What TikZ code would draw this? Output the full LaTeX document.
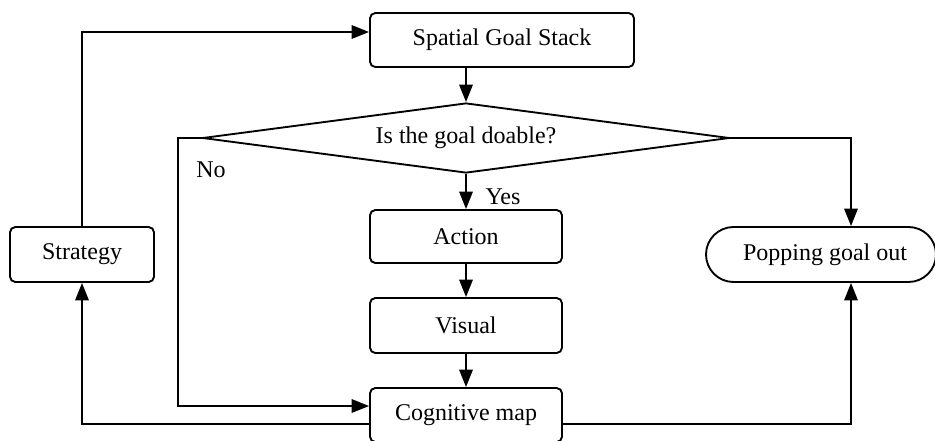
\documentclass[tikz,border=0pt]{standalone}
\usepackage{fontspec}
\setmainfont{Liberation Serif}
\usetikzlibrary{arrows.meta,shapes.geometric,shapes.misc}
\begin{document}
\begin{tikzpicture}[x=0.75pt,y=-0.75pt,
  font=\fontsize{18}{21}\selectfont,
  line width=1.4pt,
  box/.style={draw, rounded corners=4pt, inner sep=0pt, minimum width=144pt, minimum height=40.5pt},
  arr/.style={-{Triangle[length=13pt,width=10pt]}},
  lbl/.style={inner sep=0pt}]
\useasboundingbox (0,0) rectangle (935,440);
\node[box, minimum width=198pt] (sgs) at (502,40) {Spatial Goal Stack};
\node[draw, diamond, shape aspect=7.53, inner sep=0pt, minimum width=395.25pt, minimum height=52.5pt] (dia) at (466,138) {Is the goal doable?};
\node[box, minimum height=39.75pt] (act) at (466,236.5) {Action};
\node[box, minimum height=41.25pt] (vis) at (466,325.5) {Visual};
\node[box] (cog) at (466,415) {Cognitive map};
\node[box, minimum width=108pt, minimum height=41.25pt] (strat) at (82,254.5) {Strategy};
\node[draw, rounded rectangle, inner sep=0pt, minimum width=172.5pt, minimum height=41.25pt] (pop) at (821,254.5) {\hspace*{6pt}Popping goal out};
\node[lbl] (yes) at (503,197) {Yes};
\node[lbl] (no) at (211,170) {No};
\coordinate (nocorner) at (178,138);
\draw[arr] (strat.north) |- ([yshift=6pt]sgs.west);
\draw[arr] (dia.north |- sgs.south) -- (dia.north);
\draw[arr] (dia.south) -- (act.north);
\draw[arr] (act.south) -- (vis.north);
\draw[arr] (vis.south) -- (cog.north);
\draw[arr] (dia.west) -- (nocorner) |- ([yshift=6.75pt]cog.west);
\draw[arr] (dia.east) -| ([xshift=22.5pt]pop.north);
\draw[arr] ([yshift=-6.75pt]cog.west) -| (strat.south);
\draw[arr] ([yshift=-6.75pt]cog.east) -| ([xshift=22.5pt]pop.south);
\end{tikzpicture}
\end{document}
